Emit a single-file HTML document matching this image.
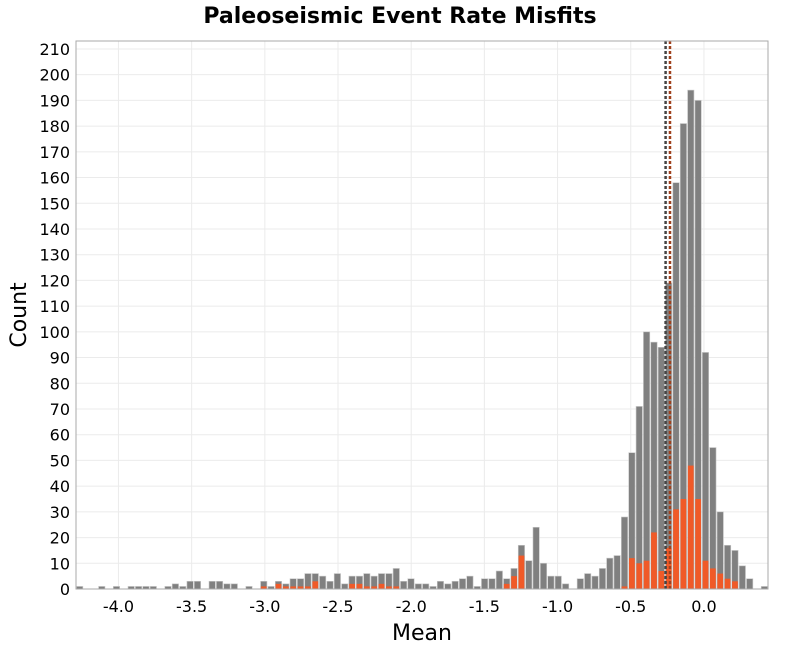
<!DOCTYPE html>
<html><head><meta charset="utf-8"><style>
body{margin:0;background:#fff;font-family:"Liberation Sans","DejaVu Sans",sans-serif}
svg text{font-family:"DejaVu Sans","Liberation Sans",sans-serif}
</style></head><body>
<svg id="chart" width="800" height="650" xmlns="http://www.w3.org/2000/svg">
<rect width="800" height="650" fill="#fff"/>
<text x="400" y="23" text-anchor="middle" font-size="22" font-weight="bold">Paleoseismic Event Rate Misfits</text>
<g id="grid"></g><g id="bars"></g><g id="marks"></g><g id="axes"></g>
<rect x="76" y="41" width="692" height="548" fill="none" stroke="#aaa" stroke-width="1"/>
<text transform="translate(26,315) rotate(-90)" text-anchor="middle" font-size="22">Count</text>
<text x="422" y="640" text-anchor="middle" font-size="22">Mean</text>
</svg>
<script>
const binStart = -4.29;
const binWidth = 0.0503;
const totalCounts = [1,0,0,1,0,1,0,1,1,1,1,0,1,2,1,3,3,0,3,3,2,2,0,1,0,3,1,3,2,4,4,6,6,5,3,6,2,5,5,6,5,6,6,8,3,4,2,2,1,3,2,3,4,5,1,4,4,7,4,8,17,11,24,10,5,5,2,0,4,6,5,8,12,13,28,53,71,100,96,94,119,158,181,194,190,92,55,30,17,15,9,4,0,1];
const subsetCounts = [0,0,0,0,0,0,0,0,0,0,0,0,0,0,0,0,0,0,0,0,0,0,0,0,0,1,0,2,1,1,1,1,3,0,0,0,0,2,2,1,1,2,1,1,0,0,0,0,0,0,0,0,0,0,0,0,0,0,2,5,13,0,0,0,0,0,0,0,0,0,0,0,0,0,1,12,10,11,22,7,16,31,35,48,35,11,8,6,4,3,0,0,0,0];
const xTicks = [-4.0,-3.5,-3.0,-2.5,-2.0,-1.5,-1.0,-0.5,0.0];
const yTicks = [0,10,20,30,40,50,60,70,80,90,100,110,120,130,140,150,160,170,180,190,200,210];
const refLines = [-0.262, -0.232];
const refColors = ["#444444","#a0401c"];
const X0=76,X1=768,Y0=589,Y1=41;
const xMin=-4.29, xMax=(768-704)/146.25;
const yMax=213.1;
const sx=v=>X0+(v-xMin)/(xMax-xMin)*(X1-X0);
const sy=v=>Y0-v/yMax*(Y0-Y1);
const NS="http://www.w3.org/2000/svg";
function mk(tag,attrs,parent,txt){const e=document.createElementNS(NS,tag);for(const k in attrs)e.setAttribute(k,attrs[k]);if(txt!==undefined)e.textContent=txt;document.getElementById(parent).appendChild(e);return e;}
yTicks.forEach(t=>{
 const l=mk('line',{x1:X0,x2:X1,y1:sy(t),y2:sy(t),stroke:'#ebebeb'},'grid');
 
 
 const tx=mk('text',{x:70,y:sy(t)+6,'text-anchor':'end','font-size':16},'axes',String(t));
 
 
});
xTicks.forEach(t=>{
 const l=mk('line',{x1:sx(t),x2:sx(t),y1:Y1,y2:Y0,stroke:'#ebebeb'},'grid');
 
 
 const tx=mk('text',{x:sx(t),y:612,'text-anchor':'middle','font-size':16},'axes',t.toFixed(1));
 
 
});
totalCounts.forEach((c,i)=>{
 if(c<=0)return;
 const a=sx(binStart+i*binWidth),b=sx(binStart+(i+1)*binWidth);
 const r=mk('rect',{x:a+0.5,y:sy(c),width:b-a-1,height:Y0-sy(c),fill:'#808080',stroke:'#c8c8c8','stroke-width':0.6},'bars');
 
 
});
subsetCounts.forEach((c,i)=>{
 if(c<=0)return;
 const a=sx(binStart+i*binWidth),b=sx(binStart+(i+1)*binWidth);
 const r=mk('rect',{x:a+0.8,y:sy(c),width:b-a-1.6,height:Y0-sy(c),fill:'#f05a28'},'bars');
 
 
});
refLines.forEach((v,i)=>{
 const l=mk('line',{x1:sx(v),x2:sx(v),y1:Y1,y2:Y0,stroke:refColors[i],'stroke-width':2.5,'stroke-dasharray':'3,2'},'marks');
 
 
});
</script>
</body></html>
